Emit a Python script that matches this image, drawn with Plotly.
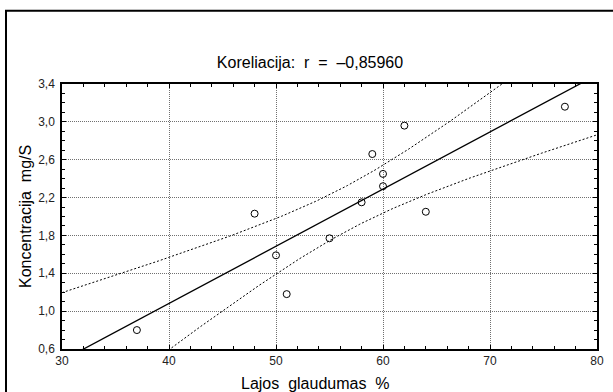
import numpy as np
import plotly.graph_objects as go

# Data
lajos_glaudumas = [37, 48, 50, 51, 55, 58, 59, 60, 60, 62, 64, 77]
koncentracija = [0.80, 2.03, 1.59, 1.18, 1.77, 2.15, 2.66, 2.45, 2.32, 2.96, 2.05, 3.16]
x_ticks = [30, 40, 50, 60, 70, 80]
y_ticks = [0.6, 1.0, 1.4, 1.8, 2.2, 2.6, 3.0, 3.4]
title_text = "Koreliacija:\u00a0 r\u00a0 =\u00a0 \u20130,85960"
x_title = "Lajos\u00a0 glaudumas\u00a0 %"
y_title = "Koncentracija\u00a0 mg/S"

x = np.array(lajos_glaudumas, dtype=float)
y = np.array(koncentracija, dtype=float)
n = len(x)
b1, b0 = np.polyfit(x, y, 1)
resid = y - (b0 + b1 * x)
s = np.sqrt(np.sum(resid ** 2) / (n - 2))
sxx = np.sum((x - x.mean()) ** 2)
t_crit = 2.228  # t(0.975, df=10)
xs = np.linspace(30, 80, 301)
yhat = b0 + b1 * xs
half = t_crit * s * np.sqrt(1.0 / n + (xs - x.mean()) ** 2 / sxx)

W, H = 613, 392
L, R, T, B = 62, 16, 84, 43
PW, PH = W - L - R, H - T - B


def px(X):
    return (X - L) / PW


def py(Y):
    return (H - B - Y) / PH


FONT = "Liberation Sans, Arial, sans-serif"

fig = go.Figure()
fig.add_trace(go.Scatter(x=xs, y=yhat + half, mode="lines",
                         line=dict(color="black", width=1, dash="2px,2px"), hoverinfo="skip"))
fig.add_trace(go.Scatter(x=xs, y=yhat - half, mode="lines",
                         line=dict(color="black", width=1, dash="2px,2px"), hoverinfo="skip"))
fig.add_trace(go.Scatter(x=xs, y=yhat, mode="lines",
                         line=dict(color="black", width=1.3), hoverinfo="skip"))
fig.add_trace(go.Scatter(x=x, y=y, mode="markers",
                         marker=dict(symbol="circle-open", size=7, color="black",
                                     line=dict(width=1, color="black"))))

axis_common = dict(
    showline=True, linecolor="black", linewidth=1.5, mirror="ticks",
    ticks="inside", ticklen=4, tickcolor="black", tickwidth=1,
    showgrid=True, gridcolor="#707070", griddash="1px,1px", gridwidth=1,
    zeroline=False, automargin=False,
    tickfont=dict(family=FONT, size=12, color="#222"),
)

fig.update_xaxes(
    range=[30, 80], tickvals=x_ticks, ticktext=[str(v) for v in x_ticks],
    minor=dict(dtick=2, ticks="inside", ticklen=3, tickcolor="black", showgrid=False),
    **axis_common,
)
fig.update_yaxes(
    range=[0.6, 3.4], tickvals=y_ticks, tickformat=".1f", ticklabelstandoff=3,
    minor=dict(dtick=0.1, ticks="inside", ticklen=3, tickcolor="black", showgrid=False),
    **axis_common,
)

fig.add_shape(type="rect", xref="paper", yref="paper",
              x0=px(6), x1=px(640), y0=py(420), y1=py(10.7),
              line=dict(color="black", width=2), fillcolor="rgba(0,0,0,0)", layer="below")

fig.add_annotation(text=x_title, xref="paper", yref="paper", x=px(315), y=py(383),
                   xanchor="center", yanchor="middle", showarrow=False,
                   font=dict(family=FONT, size=16, color="black"))
fig.add_annotation(text=y_title, xref="paper", yref="paper", x=px(25), y=py(217),
                   xanchor="center", yanchor="middle", showarrow=False, textangle=-90,
                   font=dict(family=FONT, size=16, color="black"))

fig.update_layout(
    width=W, height=H,
    margin=dict(l=L, r=R, t=T, b=B),
    paper_bgcolor="white", plot_bgcolor="white",
    separators=", ",
    showlegend=False,
    title=dict(text=title_text, x=310 / W, xref="container", xanchor="center",
               y=1 - 62 / H, yref="container", yanchor="middle",
               font=dict(family=FONT, size=16, color="black")),
    font=dict(family=FONT),
)

fig.write_html("out.html",
               config={"displayModeBar": False},
               post_script="document.body.style.margin='0';document.body.style.overflow='hidden';")
